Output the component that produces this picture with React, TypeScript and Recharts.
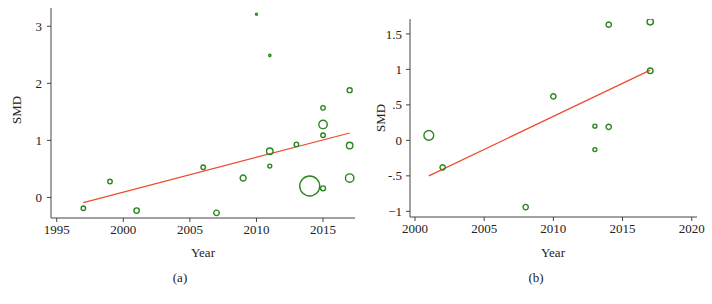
import React from 'react';
import {
  ScatterChart,
  Scatter,
  XAxis,
  YAxis,
  ZAxis,
  ReferenceLine,
} from 'recharts';

// panel (a)
const yearsA = [1997, 1999, 2001, 2006, 2007, 2009, 2010, 2011, 2011, 2011, 2013, 2014, 2015, 2015, 2015, 2015, 2017, 2017, 2017];
const smdA = [-0.19, 0.28, -0.23, 0.53, -0.27, 0.34, 3.21, 2.49, 0.81, 0.55, 0.93, 0.2, 1.57, 1.28, 1.09, 0.16, 1.88, 0.91, 0.34];
const weightA = [9, 9, 13, 9, 14, 16, 1.7, 2.2, 19, 7, 9, 180, 9, 32, 9, 11, 11, 19, 32];
const fitA = [
  { x: 1997, y: -0.09 },
  { x: 2017, y: 1.13 },
];
const xTicksA = [1995, 2000, 2005, 2010, 2015];
const yTicksA = [0, 1, 2, 3];

// panel (b)
const yearsB = [2001, 2002, 2008, 2010, 2013, 2013, 2014, 2014, 2017, 2017];
const smdB = [0.07, -0.38, -0.94, 0.62, 0.2, -0.13, 1.63, 0.19, 1.67, 0.98];
const weightB = [24, 7, 7, 7, 4, 4, 7, 7, 10, 8];
const fitB = [
  { x: 2001, y: -0.5 },
  { x: 2017, y: 0.99 },
];
const xTicksB = [2000, 2005, 2010, 2015, 2020];
const yTicksB = [-1, -0.5, 0, 0.5, 1, 1.5];

const dataA = yearsA.map((x, i) => ({ x, y: smdA[i], w: weightA[i] }));
const dataB = yearsB.map((x, i) => ({ x, y: smdB[i], w: weightB[i] }));

const FONT = '"Liberation Serif", "Times New Roman", serif';
const GREEN = '#2c8520';
const RED = '#ee4a2c';
const AXIS = '#444';

const tickStyle = { fontSize: 13, fill: '#222', fontFamily: FONT };

const fmtB = (v: number) => {
  if (v === 0) return '0';
  if (Math.abs(v) < 1) return (v < 0 ? '-' : '') + '.5';
  if (v < 0) return '\u2212' + Math.abs(v);
  return String(v);
};

function Text({ x, y, children, rotate }: { x: number; y: number; children: React.ReactNode; rotate?: boolean }) {
  return (
    <div
      style={{
        position: 'absolute',
        left: x,
        top: y,
        transform: `translate(-50%, -50%)${rotate ? ' rotate(-90deg)' : ''}`,
        fontFamily: FONT,
        fontSize: 13,
        color: '#222',
        whiteSpace: 'nowrap',
        lineHeight: 1,
      }}
    >
      {children}
    </div>
  );
}

export default function App() {
  return (
    <div style={{ position: 'absolute', left: 0, top: 0, width: 712, height: 304, background: '#fff' }}>
      <div style={{ position: 'absolute', left: 0, top: 0 }}>
        <ScatterChart width={360} height={304} margin={{ top: 8, right: 5, left: 10, bottom: 56 }}>
          <XAxis
            type="number"
            dataKey="x"
            domain={[1994.57, 2017.4]}
            ticks={xTicksA}
            allowDataOverflow
            height={30}
            tick={tickStyle}
            tickSize={4}
            tickMargin={3}
            stroke={AXIS}
          />
          <YAxis
            type="number"
            dataKey="y"
            domain={[-0.36, 3.32]}
            ticks={yTicksA}
            allowDataOverflow
            width={41}
            tick={tickStyle}
            tickSize={4}
            tickMargin={5}
            stroke={AXIS}
          />
          <ZAxis type="number" dataKey="w" domain={[0, 100]} range={[0, Math.PI * 100]} />
          <ReferenceLine segment={fitA} stroke={RED} strokeWidth={1.2} />
          <Scatter data={dataA} shape="circle" fill="none" stroke={GREEN} strokeWidth={1.4} isAnimationActive={false} />
        </ScatterChart>
      </div>
      <div style={{ position: 'absolute', left: 360, top: 0 }}>
        <ScatterChart width={352} height={304} margin={{ top: 19, right: 15, left: 10, bottom: 57 }}>
          <XAxis
            type="number"
            dataKey="x"
            domain={[1999.64, 2020.38]}
            ticks={xTicksB}
            allowDataOverflow
            height={30}
            tick={tickStyle}
            tickSize={4}
            tickMargin={3}
            stroke={AXIS}
          />
          <YAxis
            type="number"
            dataKey="y"
            domain={[-1.08, 1.71]}
            ticks={yTicksB}
            allowDataOverflow
            width={40}
            tick={tickStyle}
            tickSize={4}
            tickMargin={4}
            tickFormatter={fmtB}
            stroke={AXIS}
          />
          <ZAxis type="number" dataKey="w" domain={[0, 100]} range={[0, Math.PI * 100]} />
          <ReferenceLine segment={fitB} stroke={RED} strokeWidth={1.2} />
          <Scatter data={dataB} shape="circle" fill="none" stroke={GREEN} strokeWidth={1.4} isAnimationActive={false} />
        </ScatterChart>
      </div>
      <Text x={16} y={110} rotate>SMD</Text>
      <Text x={203} y={252}>Year</Text>
      <Text x={180} y={277}>(a)</Text>
      <Text x={380} y={118} rotate>SMD</Text>
      <Text x={553} y={252}>Year</Text>
      <Text x={536} y={277}>(b)</Text>
    </div>
  );
}
